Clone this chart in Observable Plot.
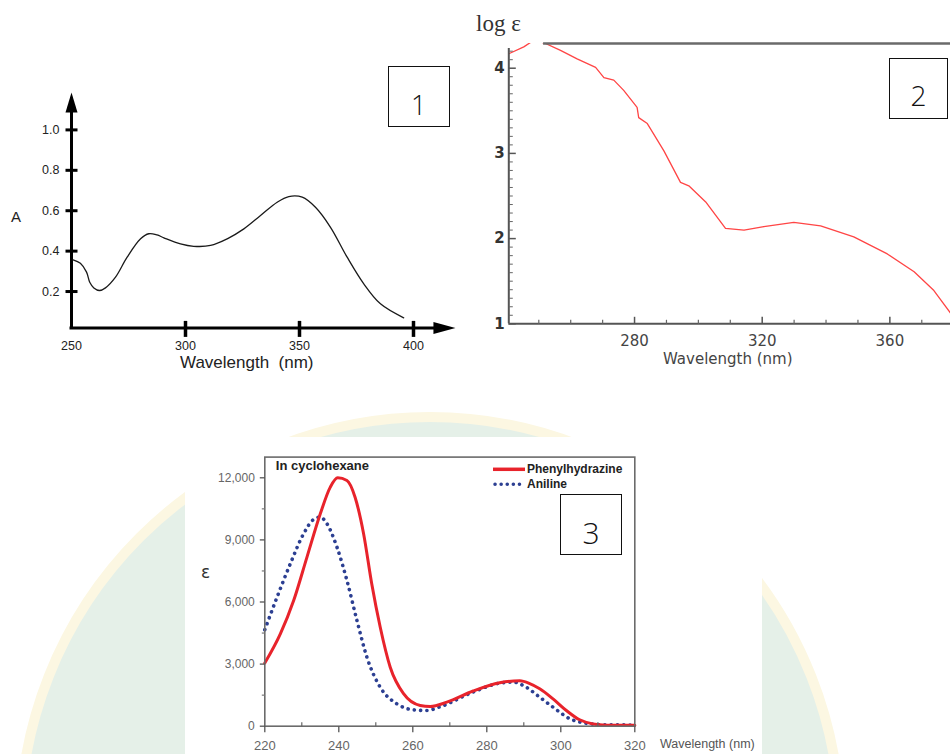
<!DOCTYPE html>
<html>
<head>
<meta charset="utf-8">
<script src="https://cdn.jsdelivr.net/npm/d3@7"></script>
<script src="https://cdn.jsdelivr.net/npm/@observablehq/plot@0.6"></script>
<style>
html,body{margin:0;padding:0;background:#fff;}
#page{position:relative;width:950px;height:754px;overflow:hidden;background:#fff;font-family:"Liberation Sans",Arial,sans-serif;}
.abs{position:absolute;}
.abs svg{display:block;max-width:none;}
.box{position:absolute;border:1.5px solid #111;box-sizing:border-box;background:#fff;font-family:"Open Sans","Noto Sans",sans-serif;font-weight:300;color:#111;text-align:center;}
.box span{position:relative;display:block;}
.lbl{position:absolute;white-space:pre;line-height:1;}
</style>
</head>
<body>
<div id="page">
  <svg class="abs" style="left:0;top:0" width="950" height="754">
    <circle cx="430" cy="827" r="410" fill="#e5f0e8" stroke="#fcf7e2" stroke-width="10"></circle>
  </svg>

  <div class="abs" id="c1" style="left:0;top:80px;width:470px;height:300px"></div>
  <div class="abs" id="c2" style="left:470px;top:0;width:480px;height:380px"></div>
  <div class="abs" id="c3" style="left:185px;top:437px;width:577px;height:317px"></div>

  <!-- chart 1 labels -->
  <div class="lbl" style="left:11px;top:209px;font-size:15px;color:#222">A</div>
  <div class="lbl" style="left:180px;top:354px;font-size:17px;color:#222">Wavelength  (nm)</div>
  <div class="box" style="left:387.5px;top:65.5px;width:62.5px;height:61.5px;font-size:27px"><span style="line-height:58.5px;top:9px">1</span></div>

  <!-- chart 2 labels -->
  <div class="lbl" style="left:476px;top:12px;font-size:23px;color:#333;font-family:'Liberation Serif','DejaVu Serif',serif">log ε</div>
  <div class="lbl" style="left:663px;top:352px;font-size:15px;color:#444;font-family:'DejaVu Sans',sans-serif">Wavelength (nm)</div>
  <div class="box" style="left:889px;top:58px;width:59px;height:60.5px;font-size:28px"><span style="line-height:57.5px;top:8px">2</span></div>

  <!-- chart 3 labels -->
  <div class="lbl" style="left:201px;top:564px;font-size:17px;color:#333;font-family:'DejaVu Sans',sans-serif">ε</div>
  <div class="lbl" style="left:660px;top:738px;font-size:12.5px;color:#555">Wavelength (nm)</div>
  <div class="abs" style="left:492px;top:461px;width:36px;height:30px">
    <svg width="36" height="30">
      <line x1="1" y1="8.3" x2="33" y2="8.3" stroke="#e8232b" stroke-width="3.5"></line>
      <line x1="3" y1="23.3" x2="33" y2="23.3" stroke="#2c3f92" stroke-width="3.5" stroke-dasharray="0.1 6" stroke-linecap="round"></line>
    </svg>
  </div>
  <div class="lbl" style="left:527px;top:463px;font-size:12px;font-weight:bold;color:#222">Phenylhydrazine</div>
  <div class="lbl" style="left:527px;top:478px;font-size:12px;font-weight:bold;color:#222">Aniline</div>
  <div class="box" style="left:560px;top:494px;width:62px;height:61px;font-size:30px"><span style="line-height:58px;top:8.5px">3</span></div>
</div>

<script>
// ---------- Chart 1: absorbance spectrum ----------
const chart1Wavelength = [250.7, 253.9, 256.6, 258.0, 259.8, 262.3, 264.9, 269.3, 274.4, 280.3, 283.9, 287.5, 290.5, 297.8, 303.6, 311.0, 318.3, 325.6, 332.9, 340.2, 345.3, 351.2, 357.0, 363.6, 370.9, 378.2, 385.5, 395.7];
const chart1Absorbance = [0.357, 0.340, 0.296, 0.246, 0.218, 0.205, 0.218, 0.271, 0.370, 0.461, 0.486, 0.480, 0.466, 0.436, 0.424, 0.428, 0.461, 0.510, 0.576, 0.642, 0.670, 0.667, 0.617, 0.518, 0.370, 0.238, 0.139, 0.070];
const chart1YTicks = [0.2, 0.4, 0.6, 0.8, 1.0];
const chart1XLabels = [250, 300, 350, 400];
const chart1XTickMarks = [300, 350, 400];

// ---------- Chart 2: log epsilon spectrum ----------
const chart2Wavelength = [240.6, 245.3, 248.5, 252.1, 256.8, 262.0, 267.8, 270.4, 273.5, 276.6, 280.8, 281.3, 284.0, 289.2, 294.4, 297.0, 302.3, 308.5, 314.3, 320.5, 329.9, 338.3, 348.7, 359.2, 367.6, 373.8, 379.1];
const chart2LogEps = [4.17, 4.25, 4.33, 4.29, 4.21, 4.11, 4.01, 3.89, 3.86, 3.74, 3.54, 3.42, 3.35, 3.03, 2.66, 2.62, 2.43, 2.12, 2.10, 2.14, 2.19, 2.15, 2.02, 1.82, 1.61, 1.39, 1.12];
const chart2YTicks = [1, 2, 3, 4];
const chart2XTicks = [280, 320, 360];
const chart2XMinor = [250, 260, 270, 290, 300, 310, 330, 340, 350, 370];

// ---------- Chart 3: epsilon in cyclohexane ----------
const phenylWavelength = [220, 224.2, 227.8, 231.4, 235.0, 237.7, 239.7, 242.2, 244.4, 246.7, 248.9, 251.2, 253.9, 257.5, 262.0, 264.7, 269.2, 276.3, 283.5, 288.9, 291.6, 294.3, 297.9, 301.5, 305.1, 308.7, 312.3, 320];
const phenylEpsilon = [3050, 4460, 6070, 8170, 10260, 11550, 12000, 11870, 11060, 9300, 6880, 4780, 2850, 1570, 1000, 950, 1160, 1700, 2100, 2190, 2060, 1810, 1320, 760, 310, 110, 50, 40];
const anilineWavelength = [220, 223.3, 226.9, 230.5, 233.2, 235.0, 236.8, 239.5, 242.2, 244.9, 247.6, 251.2, 255.7, 260.2, 263.8, 267.4, 276.3, 283.5, 287.1, 290.7, 294.3, 297.9, 299.7, 302.4, 305.1, 307.8, 312.3, 320];
const anilineEpsilon = [4660, 6230, 7850, 9300, 9990, 10100, 9780, 8650, 7040, 5110, 3330, 1880, 1080, 790, 760, 940, 1650, 2080, 2130, 1880, 1400, 920, 680, 360, 200, 116, 68, 60];
const chart3YTicks = [0, 3000, 6000, 9000, 12000];
const chart3YMinor = [1500, 4500, 7500, 10500];
const chart3XTicks = [220, 240, 260, 280, 300, 320];
const chart3XMinor = [230, 250, 270, 290, 310];

// custom symbols
const upArrow = {draw(c){c.moveTo(0,0);c.lineTo(6,20);c.lineTo(-6,20);c.closePath();}};
const rightArrow = {draw(c){c.moveTo(0,0);c.lineTo(-22,-6);c.lineTo(-22,6);c.closePath();}};
const hTick = (l, r) => ({draw(c){c.moveTo(-l,0);c.lineTo(r,0);}});
const vTick = (up, down) => ({draw(c){c.moveTo(0,-up);c.lineTo(0,down);}});

// ---------- build chart 1 ----------
const data1 = chart1Wavelength.map((w, i) => ({w, a: chart1Absorbance[i]}));
const chart1 = Plot.plot({
  width: 470, height: 300,
  marginLeft: 71, marginRight: 57, marginTop: 49.4, marginBottom: 52.6,
  x: {domain: [250, 400], axis: null},
  y: {domain: [0.02, 1.0], axis: null},
  style: {background: "transparent", fontFamily: "Liberation Sans, Arial, sans-serif", maxWidth: "none"},
  marks: [
    Plot.ruleX([250], {y1: 0.02, y2: 1.15, stroke: "#000", strokeWidth: 3, strokeLinecap: "square"}),
    Plot.ruleY([0.02], {x1: 250, x2: 412, stroke: "#000", strokeWidth: 3, strokeLinecap: "square"}),
    Plot.dot([{x: 250, y: 1.185}], {x: "x", y: "y", symbol: upArrow, fill: "#000", stroke: "none"}),
    Plot.dot([{x: 418.4, y: 0.02}], {x: "x", y: "y", symbol: rightArrow, fill: "#000", stroke: "none"}),
    Plot.dot(chart1YTicks, {x: () => 250, y: d => d, symbol: hTick(6, 6), stroke: "#000", strokeWidth: 3, fill: "none"}),
    Plot.dot(chart1XTickMarks, {x: d => d, y: () => 0.02, symbol: vTick(7, 9), stroke: "#000", strokeWidth: 3.5, fill: "none"}),
    Plot.text(chart1YTicks, {x: () => 250, y: d => d, text: d => d.toFixed(1), textAnchor: "end", dx: -12, fontSize: 12.5, fill: "#222"}),
    Plot.text(chart1XLabels, {x: d => d, y: () => 0.02, text: d => String(d), dy: 18, fontSize: 12.5, fill: "#222"}),
    Plot.line(data1, {x: "w", y: "a", stroke: "#1a1a1a", strokeWidth: 1.3, curve: "catmull-rom"})
  ]
});
document.getElementById("c1").appendChild(chart1);

// ---------- build chart 2 ----------
const data2 = chart2Wavelength.map((w, i) => ({w, v: chart2LogEps[i]}));
const chart2YMinor = d3.range(11, 43).map(k => k / 10).filter(v => !chart2YTicks.includes(v));
const chart2 = Plot.plot({
  width: 480, height: 380,
  marginLeft: 38.3, marginRight: 0, marginTop: 43, marginBottom: 56.7,
  x: {domain: [240.6, 379], axis: null},
  y: {domain: [1, 4.29], axis: null},
  style: {background: "transparent", fontFamily: "DejaVu Sans, sans-serif", maxWidth: "none"},
  marks: [
    Plot.line(data2, {x: "w", y: "v", stroke: "#ff4545", strokeWidth: 1.3, clip: true}),
    Plot.ruleX([240.6], {y1: 1, y2: 4.23, stroke: "#555", strokeWidth: 2}),
    Plot.ruleY([1], {x1: 240.6, x2: 379, stroke: "#555", strokeWidth: 2}),
    Plot.ruleY([4.29], {x1: 251.5, x2: 379, stroke: "#6a6a6a", strokeWidth: 2.6}),
    Plot.dot(chart2YMinor, {x: () => 240.6, y: d => d, symbol: hTick(0, 4), stroke: "#666", strokeWidth: 1, fill: "none"}),
    Plot.dot(chart2YTicks, {x: () => 240.6, y: d => d, symbol: hTick(0, 7), stroke: "#555", strokeWidth: 1.5, fill: "none"}),
    Plot.dot(chart2XMinor, {x: d => d, y: () => 1, symbol: vTick(4, 0), stroke: "#666", strokeWidth: 1.2, fill: "none"}),
    Plot.dot(chart2XTicks, {x: d => d, y: () => 1, symbol: vTick(7, 0), stroke: "#555", strokeWidth: 1.5, fill: "none"}),
    Plot.text(chart2YTicks, {x: () => 240.6, y: d => d, text: d => String(d), textAnchor: "end", dx: -4, fontSize: 15, fontWeight: "bold", fill: "#333"}),
    Plot.text(chart2XTicks, {x: d => d, y: () => 1, text: d => String(d), dy: 17, fontSize: 15, fill: "#444"})
  ]
});
document.getElementById("c2").appendChild(chart2);

// ---------- build chart 3 ----------
const phenyl = phenylWavelength.map((w, i) => ({w, e: phenylEpsilon[i]}));
const aniline = anilineWavelength.map((w, i) => ({w, e: anilineEpsilon[i]}));
const chart3 = Plot.plot({
  width: 577, height: 317,
  marginLeft: 79.3, marginRight: 127.7, marginTop: 19.6, marginBottom: 28.3,
  x: {domain: [220, 320], axis: null},
  y: {domain: [0, 13000], axis: null},
  style: {background: "#fff", fontFamily: "Liberation Sans, Arial, sans-serif", maxWidth: "none"},
  marks: [
    Plot.line(aniline, {x: "w", y: "e", stroke: "#2c3f92", strokeWidth: 3.6, strokeDasharray: "0.1 6.2", strokeLinecap: "round", curve: "monotone-x"}),
    Plot.line(phenyl, {x: "w", y: "e", stroke: "#e8232b", strokeWidth: 3, curve: "monotone-x"}),
    Plot.frame({stroke: "#6b6b6b", strokeWidth: 1.6}),
    Plot.dot(chart3YTicks, {x: () => 220, y: d => d, symbol: hTick(5, 0), stroke: "#555", strokeWidth: 1.3, fill: "none"}),
    Plot.dot(chart3YMinor, {x: () => 220, y: d => d, symbol: hTick(3, 0), stroke: "#777", strokeWidth: 1.2, fill: "none"}),
    Plot.dot(chart3XTicks, {x: d => d, y: () => 0, symbol: vTick(0, 6), stroke: "#555", strokeWidth: 1.3, fill: "none"}),
    Plot.dot(chart3XMinor, {x: d => d, y: () => 0, symbol: vTick(4, 0), stroke: "#666", strokeWidth: 1.2, fill: "none"}),
    Plot.text(chart3YTicks, {x: () => 220, y: d => d, text: d => d3.format(",")(d), textAnchor: "end", dx: -10, fontSize: 12, fill: "#666"}),
    Plot.text(chart3XTicks, {x: d => d, y: () => 0, text: d => String(d), dy: 19.5, fontSize: 13, fill: "#666"}),
    Plot.text(["In cyclohexane"], {frameAnchor: "top-left", text: d => d, dx: 11, dy: 3.5, fontSize: 13, fontWeight: "bold", fill: "#222"})
  ]
});
document.getElementById("c3").appendChild(chart3);
</script>
</body>
</html>
